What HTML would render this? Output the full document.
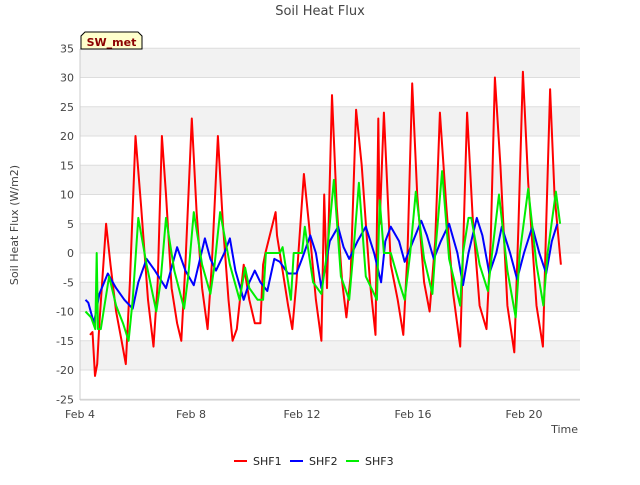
<!DOCTYPE html>
<html><head><meta charset="utf-8"><style>
body{margin:0;background:#fff;font-family:"Liberation Sans","DejaVu Sans",sans-serif;}
svg text{font-family:"DejaVu Sans","Liberation Sans",sans-serif;}
</style></head><body>
<svg id="chart" width="640" height="480" viewBox="0 0 640 480" xmlns="http://www.w3.org/2000/svg">
<g id="bands"></g><g id="grid"></g>
<line x1="80" y1="49" x2="80" y2="400" stroke="#ccc"/>
<line x1="80" y1="400" x2="580" y2="400" stroke="#ccc"/>
<g id="yticks"></g><g id="xticks"></g><g id="series"></g>
<text x="320" y="15" text-anchor="middle" font-size="13" fill="#444">Soil Heat Flux</text>
<text x="18" y="225" text-anchor="middle" font-size="11" fill="#444" transform="rotate(-90 18 225)">Soil Heat Flux (W/m2)</text>
<text x="578" y="433" text-anchor="end" font-size="11" fill="#444">Time</text>
<g>
<path d="M81 49 L81 36 L85 32 L138 32 L142 36 L142 49 Z" fill="#ffffcc" stroke="#000" stroke-width="1"/>
<text x="111.5" y="46" text-anchor="middle" font-size="11" font-weight="bold" fill="#8b0000">SW_met</text>
</g>
<g id="legend"></g>
</svg>
<script>
const yTicks=[-25,-20,-15,-10,-5,0,5,10,15,20,25,30,35];
const xTickDays=[0,4,8,12,16];
const xTickLabels=["Feb 4","Feb 8","Feb 12","Feb 16","Feb 20"];
const seriesNames=["SHF1","SHF2","SHF3"];
const seriesColors=["#ff0000","#0000ff","#00ee00"];
const shf1T=[0.36,0.45,0.54,0.62,0.7,0.94,1.1,1.3,1.5,1.65,1.8,2.0,2.2,2.45,2.65,2.8,2.95,3.1,3.3,3.5,3.65,3.8,4.03,4.2,4.4,4.6,4.75,4.97,5.15,5.35,5.5,5.65,5.9,6.1,6.3,6.5,6.6,6.68,7.05,7.1,7.3,7.5,7.65,7.8,8.07,8.25,8.5,8.7,8.8,8.9,9.08,9.25,9.45,9.6,9.75,9.95,10.15,10.45,10.65,10.75,10.8,10.95,11.2,11.45,11.65,11.8,11.97,12.15,12.4,12.6,12.8,12.97,13.2,13.45,13.7,13.8,13.95,14.15,14.4,14.65,14.8,14.95,15.15,15.4,15.65,15.8,15.96,16.15,16.45,16.68,16.8,16.94,17.1,17.33];
const shf1V=[-14,-13.5,-21,-19,-12,5,-2,-10,-15,-19,-5,20,8,-8,-16,-5,20,10,-6,-12,-15,-2,23,7,-6,-13,-2,20,5,-8,-15,-13,-2,-8,-12,-12,-2,0,7,3,-3,-9,-13,-5,13.5,5,-8,-15,10,-6,27,8,-5,-11,-4,24.5,15,-5,-14,23,5,24,-2,-8,-14,0,29,10,-5,-10,2,24,8,-7,-16,0,24,6,-9,-13,2,30,15,-9,-17,5,31,12,-9,-16,5,28,10,-2];
const shf2T=[0.2,0.3,0.5,0.7,1.0,1.3,1.6,1.9,2.1,2.4,2.7,3.1,3.5,3.8,4.1,4.5,4.7,4.9,5.2,5.4,5.6,5.9,6.1,6.3,6.5,6.75,7.0,7.2,7.5,7.8,8.0,8.3,8.5,8.7,9.0,9.3,9.5,9.7,10.0,10.3,10.6,10.85,11.0,11.2,11.5,11.7,12.0,12.3,12.5,12.75,13.0,13.3,13.6,13.8,14.0,14.3,14.5,14.75,15.0,15.2,15.5,15.75,16.0,16.3,16.55,16.8,17.0,17.2];
const shf2V=[-8,-8.5,-12,-7,-3.5,-6,-8,-9.5,-5,-1,-3,-6,1,-3,-5.5,2.5,-1,-3,0,2.5,-3,-8,-5,-3,-5,-6.5,-1,-1.5,-3.5,-3.5,-1,3,0,-6,2,4.5,1,-1,2,4.5,0,-5,2,4.5,2,-1.5,2,5.5,3,-1,2,5,0,-5.5,0,6,3,-3.5,0,4.5,0,-4.5,0,4.5,0,-3.5,2,5];
const shf3T=[0.2,0.4,0.55,0.6,0.65,0.75,1.05,1.3,1.55,1.75,1.9,2.1,2.4,2.75,2.9,3.1,3.4,3.75,3.9,4.1,4.4,4.7,4.85,5.05,5.4,5.75,5.95,6.1,6.4,6.6,6.7,7.2,7.3,7.6,7.7,8.0,8.1,8.4,8.7,8.9,9.15,9.4,9.7,9.85,10.05,10.3,10.7,10.8,10.95,11.2,11.5,11.7,11.9,12.1,12.4,12.7,12.8,13.05,13.3,13.7,13.8,14.0,14.1,14.4,14.7,14.85,15.1,15.4,15.7,15.85,16.15,16.45,16.7,16.85,17.15,17.3];
const shf3V=[-10,-11,-13,0,-13,-13,-4,-9,-12,-15,-8,6,-2,-10,-5,6,-3,-9.5,-4,7,-2,-7,-2,7,-2,-8,-2.5,-6,-8,-8,0,0,1,-8,0,0,4.5,-5,-7,0,12.5,-4,-8,0,12,-4,-8,9,0,0,-5,-8,0,10.5,-1,-7,0,14,-1,-9,0,6,6,-2,-6.5,0,10,-3,-11,0,11,-2,-9,0,10.5,5];
const X=d=>80+d*27.75, Y=v=>253-v*5.85;
const NS="http://www.w3.org/2000/svg";
function mk(tag,attrs,parent){const e=document.createElementNS(NS,tag);for(const k in attrs)e.setAttribute(k,attrs[k]);parent.appendChild(e);return e;}
const bands=document.getElementById('bands'),grid=document.getElementById('grid'),yt=document.getElementById('yticks'),xt=document.getElementById('xticks');
[[30,35],[20,25],[10,15],[0,5],[-10,-5],[-20,-15]].forEach(b=>{const r=mk('rect',{x:80,y:Y(b[1]),width:500,height:Y(b[0])-Y(b[1]),fill:'#f2f2f2'},bands);

});
yTicks.forEach(v=>{const l=mk('line',{x1:80,x2:580,y1:Y(v),y2:Y(v),stroke:'#ddd'},grid);


const t=mk('text',{x:74,y:Y(v)+4,'text-anchor':'end','font-size':11,fill:'#444'},yt);t.textContent=v;

});
xTickDays.forEach((d,i)=>{const t=mk('text',{x:X(d),y:418,'text-anchor':'middle','font-size':11,fill:'#444'},xt);t.textContent=xTickLabels[i];

});
const sg=document.getElementById('series');
[[shf1T,shf1V],[shf2T,shf2V],[shf3T,shf3V]].forEach((s,i)=>{const pts=s[0].map((t,j)=>X(t).toFixed(1)+','+Y(s[1][j]).toFixed(1)).join(' ');
const p=mk('polyline',{points:pts,fill:'none',stroke:seriesColors[i],'stroke-width':2,'stroke-linejoin':'round'},sg);

});
const lg=document.getElementById('legend');const lx=[234,290,346];
seriesNames.forEach((n,i)=>{const g=mk('g',{},lg);


mk('line',{x1:lx[i],x2:lx[i]+13,y1:461,y2:461,stroke:seriesColors[i],'stroke-width':2},g);
const t=mk('text',{x:lx[i]+19,y:465,'font-size':11,fill:'#222'},g);t.textContent=n;});
</script>
</body></html>
